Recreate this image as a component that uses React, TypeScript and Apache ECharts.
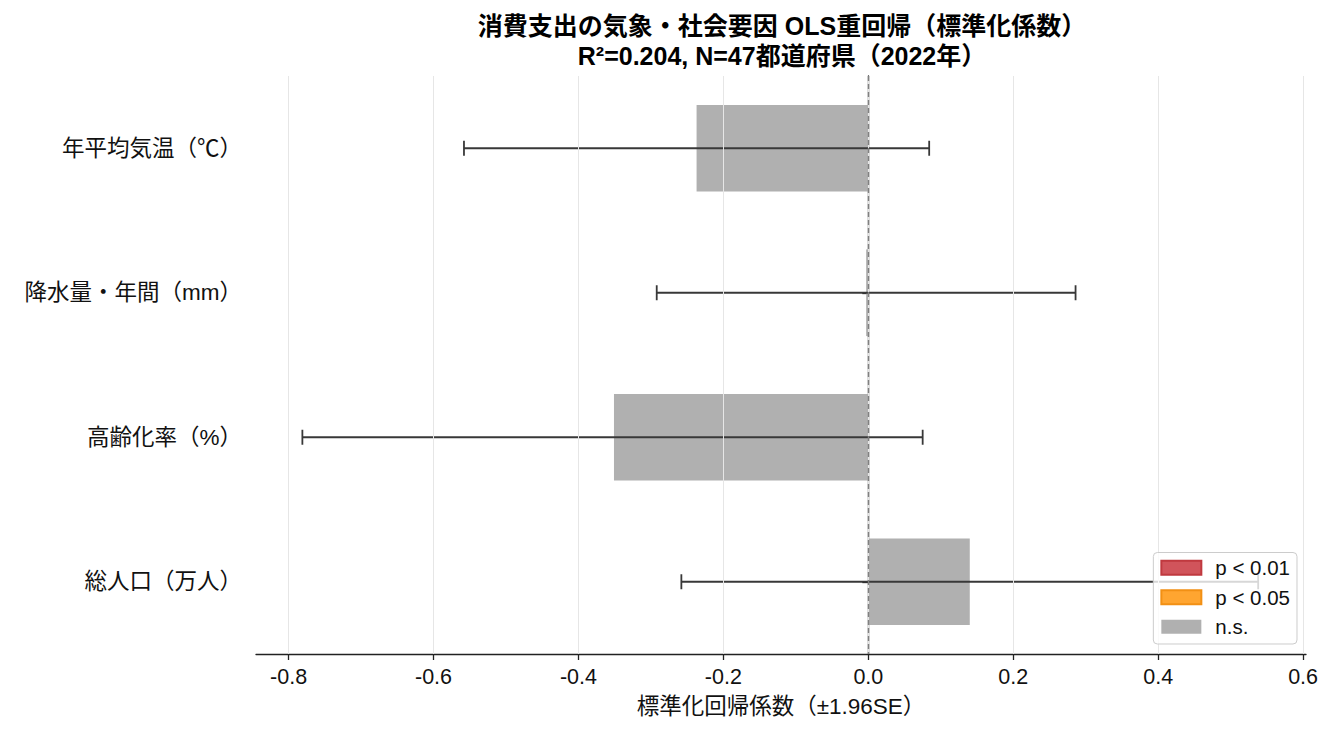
import React, { useEffect, useRef } from "react";
import * as echarts from "echarts";

const categories = ["年平均気温（℃）", "降水量・年間（mm）", "高齢化率（%）", "総人口（万人）"];
const coef = [-0.237, -0.003, -0.351, 0.14];
const ciLow = [-0.558, -0.292, -0.781, -0.258];
const ciHigh = [0.084, 0.286, 0.075, 0.538];
const xTicks = [-0.8, -0.6, -0.4, -0.2, 0.0, 0.2, 0.4, 0.6];
const titleLines = ["消費支出の気象・社会要因 OLS重回帰（標準化係数）", "R²=0.204, N=47都道府県（2022年）"];
const xName = "標準化回帰係数（±1.96SE）";
const legendNames = ["p < 0.01", "p < 0.05", "n.s."];

const FONT = "'Liberation Sans', 'Noto Sans CJK JP', sans-serif";

export default function App() {
  const ref = useRef<HTMLDivElement>(null);
  useEffect(() => {
    if (!ref.current) return;
    const chart = echarts.init(ref.current, undefined, { renderer: "svg" });
    const errData = categories.map((_, i) => [ciLow[i], ciHigh[i], i]);
    const option: any = {
      animation: false,
      backgroundColor: "#ffffff",
      textStyle: { fontFamily: FONT },
      title: {
        text: titleLines.join("\n"),
        left: 777,
        textAlign: "center",
        top: 6,
        textStyle: { fontFamily: FONT, fontSize: 25, fontWeight: "bold", color: "#000", lineHeight: 30 },
      },
      grid: { left: 256, right: 28, top: 76, bottom: 81, containLabel: false },
      legend: {
        orient: "vertical",
        right: 37,
        bottom: 91,
        z: 10,
        data: legendNames,
        itemWidth: 40,
        itemHeight: 14,
        itemGap: 9,
        padding: [5, 7, 7, 7],
        borderColor: "#cccccc",
        borderWidth: 1,
        borderRadius: 4,
        backgroundColor: "rgba(255,255,255,0.8)",
        textStyle: { fontFamily: FONT, fontSize: 20.5, color: "#111", padding: [0, 0, 0, 9], lineHeight: 20 },
        icon: "rect",
      },
      xAxis: {
        type: "value",
        min: -0.845,
        max: 0.604,
        name: xName,
        nameLocation: "middle",
        nameGap: 41,
        nameTextStyle: { fontFamily: FONT, fontSize: 22.5, color: "#111" },
        axisLine: { show: true, lineStyle: { color: "#222", width: 1.3 } },
        axisTick: { show: true, length: 6, customValues: xTicks, lineStyle: { color: "#222", width: 1.3 } },
        axisLabel: {
          customValues: xTicks,
          fontFamily: FONT,
          fontSize: 21.5,
          color: "#111",
          margin: 12,
          formatter: (v: number) => {
            const r = Math.round(v * 10) / 10;
            if (Math.abs(r - v) > 1e-6) return "";
            return r.toFixed(1);
          },
        },
        splitLine: { show: false },
      },
      yAxis: {
        type: "category",
        inverse: true,
        data: categories,
        axisLine: { show: true, lineStyle: { color: "#222", width: 1.3 } },
        axisTick: { show: true, alignWithLabel: true, length: 6, lineStyle: { color: "#222", width: 1.3 } },
        axisLabel: { fontFamily: FONT, fontSize: 22.5, color: "#111", margin: 14 },
        splitLine: { show: false },
      },
      series: [
        {
          name: "grid",
          type: "line",
          data: [],
          z: 1,
          silent: true,
          markLine: {
            silent: true,
            symbol: "none",
            label: { show: false },
            lineStyle: { color: "#e6e6e6", width: 1, type: "solid" },
            data: xTicks.map((v) => ({ xAxis: v })),
          },
        },
        {
          name: legendNames[0],
          type: "bar",
          data: [],
          barGap: "-100%",
          barWidth: "60%",
          itemStyle: { color: "#d1545b", borderColor: "#c0393f", borderWidth: 1 },
        },
        {
          name: legendNames[1],
          type: "bar",
          data: [],
          barGap: "-100%",
          barWidth: "60%",
          itemStyle: { color: "#ffa530", borderColor: "#f29014", borderWidth: 1 },
        },
        {
          name: legendNames[2],
          type: "bar",
          data: coef,
          barGap: "-100%",
          barWidth: "60%",
          z: 2,
          itemStyle: { color: "#b0b0b0", borderColor: "#a8a8a8", borderWidth: 0 },
          markLine: {
            silent: true,
            symbol: "none",
            label: { show: false },
            lineStyle: { color: "#808080", width: 1.4, type: [5, 3] },
            data: [{ xAxis: 0 }],
          },
        },
        {
          name: "err",
          type: "custom",
          z: 3,
          silent: true,
          encode: { x: [0, 1], y: 2 },
          data: errData,
          renderItem: (params: any, api: any) => {
            const idx = api.value(2);
            const p1 = api.coord([api.value(0), idx]);
            const p2 = api.coord([api.value(1), idx]);
            const h = 7.5;
            const style = { stroke: "#383838", lineWidth: 1.8 };
            return {
              type: "group",
              children: [
                { type: "line", shape: { x1: p1[0], y1: p1[1], x2: p2[0], y2: p2[1] }, style },
                { type: "line", shape: { x1: p1[0], y1: p1[1] - h, x2: p1[0], y2: p1[1] + h }, style },
                { type: "line", shape: { x1: p2[0], y1: p2[1] - h, x2: p2[0], y2: p2[1] + h }, style },
              ],
            };
          },
        },
      ],
    };
    chart.setOption(option);
    return () => chart.dispose();
  }, []);
  return <div ref={ref} style={{ width: 1334, height: 735, position: "absolute", left: 0, top: 0 }} />;
}
